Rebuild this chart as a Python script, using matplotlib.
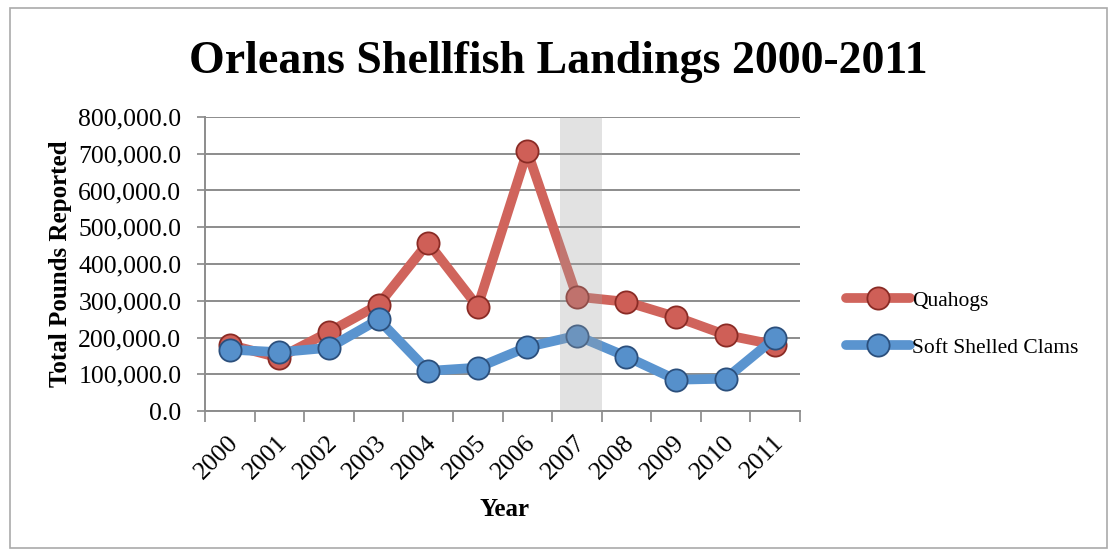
import matplotlib
matplotlib.use("Agg")
import matplotlib.pyplot as plt
from matplotlib.patches import Rectangle
from matplotlib.transforms import ScaledTranslation
import numpy as np

years = ["2000", "2001", "2002", "2003", "2004", "2005", "2006", "2007", "2008", "2009", "2010", "2011"]
quahogs = [180000, 145000, 215000, 289000, 458000, 284000, 707000, 311000, 297000, 256000, 207000, 180000]
soft_clams = [167000, 160000, 172000, 249000, 109000, 118000, 174000, 205000, 148000, 85000, 88000, 199000]
yticks = [0, 100000, 200000, 300000, 400000, 500000, 600000, 700000, 800000]
highlight_year = "2007"

plt.rcParams['font.family'] = ['Liberation Serif', 'DejaVu Serif']

fig = plt.figure(figsize=(11.1, 5.5), dpi=100)
fig.patches.append(Rectangle((10/1110, 2/550), 1097/1110, 540/550, transform=fig.transFigure,
                             fill=False, edgecolor='#aaaaaa', linewidth=1.2))
ax = fig.add_axes([205/1110, 1-411/550, 595/1110, 294/550])

x = np.arange(len(years))
red_line, red_face, red_edge = '#d0645c', '#cf5f57', '#8a2b25'
blue_line, blue_face, blue_edge = '#5a94cf', '#5690cb', '#2b4f7c'

ax.plot(x, quahogs, color=red_line, lw=7, marker='o', ms=16, mfc=red_face, mec=red_edge, mew=1.3,
        label='Quahogs', zorder=3, solid_capstyle='round')
ax.plot(x, soft_clams, color=blue_line, lw=7, marker='o', ms=16, mfc=blue_face, mec=blue_edge, mew=1.3,
        label='Soft Shelled Clams', zorder=4, solid_capstyle='round')

hi = years.index(highlight_year)
ax.axvspan(hi - 0.34, hi + 0.5, color='#a0a0a0', alpha=0.3, lw=0, zorder=5)

ax.set_xlim(-0.5, len(years) - 0.5)
ax.set_ylim(0, 800000)
ax.set_yticks(yticks)
ax.set_yticklabels([f"{v:,.1f}" for v in yticks], fontsize=18.5)
ax.set_xticks(x)
ax.set_xticklabels(years, rotation=45, fontsize=18.5, ha='right', va='center', rotation_mode='anchor')
ax.set_xticks(np.arange(-0.5, len(years)), minor=True)
ax.tick_params(axis='x', which='major', length=0, pad=0)
ax.tick_params(axis='x', which='minor', length=8, color='#888888', width=1.2)
ax.tick_params(axis='y', length=6, color='#888888', width=1.2, pad=11)
for lab in ax.get_xticklabels():
    lab.set_transform(lab.get_transform() + ScaledTranslation(0.05, -0.28, fig.dpi_scale_trans))
ax.grid(axis='y', color='#8c8c8c', lw=1.4, zorder=1)
ax.set_axisbelow(True)
for s in ['top', 'right']:
    ax.spines[s].set_visible(False)
for s in ['left', 'bottom']:
    ax.spines[s].set_color('#8c8c8c')
    ax.spines[s].set_linewidth(1.4)

ax.set_ylabel('Total Pounds Reported', fontsize=18, fontweight='bold')
ax.yaxis.set_label_coords(72/1110, 1-264/550, transform=fig.transFigure)
ax.set_xlabel('Year', fontsize=18, fontweight='bold')
ax.xaxis.set_label_coords(505/1110, 1-498/550, transform=fig.transFigure)
fig.text(558/1110, 1-62/550, 'Orleans Shellfish Landings 2000-2011', fontsize=33, fontweight='bold',
         ha='center', va='center')

ax.legend(loc='center left', bbox_to_anchor=(835/1110, 1-324/550), bbox_transform=fig.transFigure,
          frameon=False, fontsize=15.5, handlelength=3.0, labelspacing=1.25, handletextpad=0.1, borderpad=0)

fig.savefig('out.png', dpi=100)
